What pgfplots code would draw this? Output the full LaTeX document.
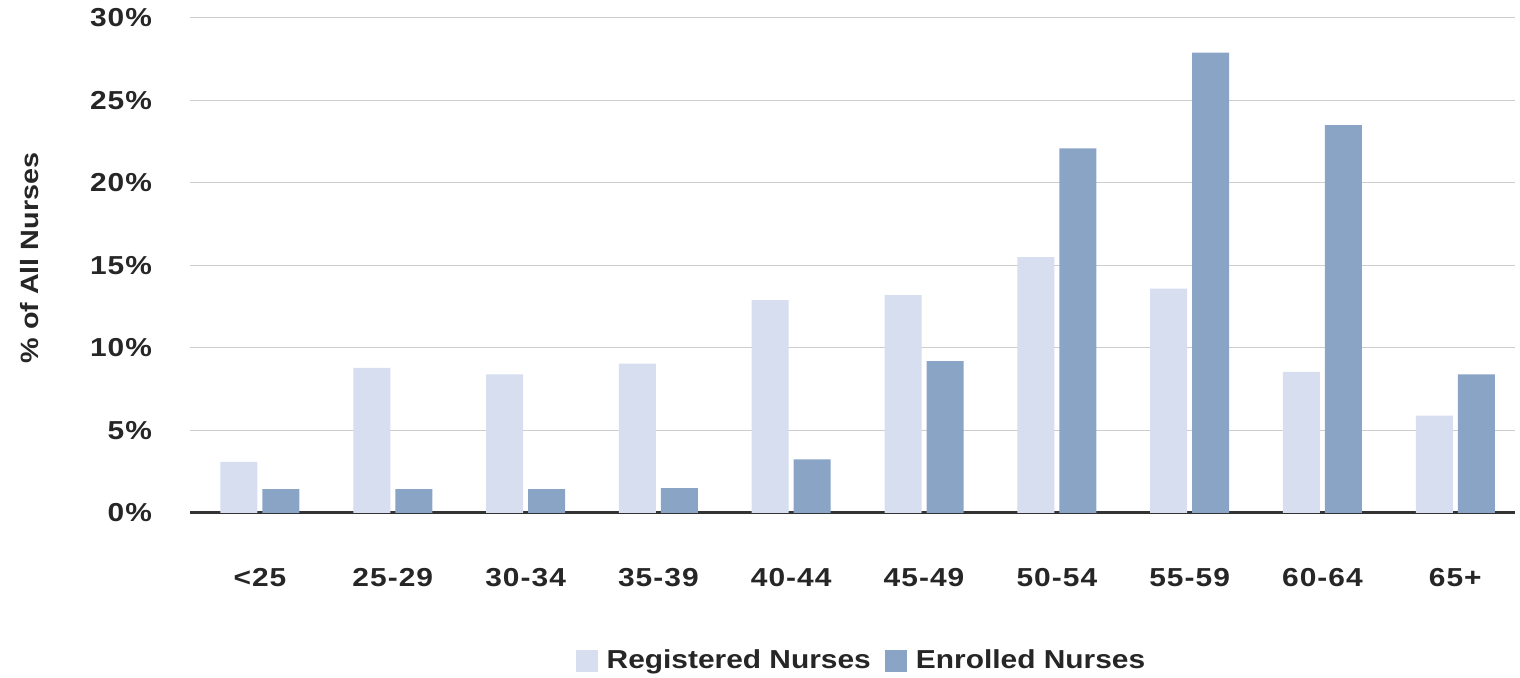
\documentclass[border=0pt]{standalone}
\usepackage{pgfplots}
\pgfplotsset{compat=1.18}
\usepackage{fontspec}
\setmainfont{Liberation Sans}[FakeStretch=1.15]
\newfontfamily\tickfont{Liberation Sans}[FakeStretch=1.15, LetterSpace=4]
\definecolor{regc}{RGB}{214,222,240}
\definecolor{enrc}{RGB}{138,164,198}
\definecolor{gridc}{RGB}{205,205,205}
\begin{document}
\begin{tikzpicture}
\begin{axis}[
  scale only axis,
  width=662.5pt, height=247.5pt,
  at={(0,0)}, anchor=south west,
  ybar=2.5pt, bar width=18.5pt,
  xmin=-0.527, xmax=9.45,
  ymin=0, ymax=30,
  xtick={0,1,2,3,4,5,6,7,8,9},
  xticklabels={<25,25-29,30-34,35-39,40-44,45-49,50-54,55-59,60-64,65+},
  ytick={0,5,10,15,20,25,30},
  yticklabels={0\%,5\%,10\%,15\%,20\%,25\%,30\%},
  axis y line*=left,
  axis x line*=bottom,
  y axis line style={draw=none},
  x axis line style={draw=black!80, line width=1.5pt, -},
  major tick length=0pt,
  tick style={draw=none},
  ymajorgrids,
  grid style={gridc, line width=0.5pt},
  ticklabel style={font=\tickfont\fontsize{13}{15}\selectfont\bfseries, text=black!85},
  yticklabel style={xshift=-15.5pt},
  xticklabel style={yshift=-24pt},
  ylabel={\% of All Nurses},
  ylabel style={at={(axis description cs:-0.121,0.515)}, anchor=center, rotate=0, font=\fontsize{12.5}{15}\selectfont\bfseries, text=black!85},
  legend style={at={(axis description cs:0.5075,-0.299)}, anchor=center, draw=none, fill=none,
    legend columns=-1, font=\fontsize{13}{15}\selectfont\bfseries, text=black!85,
    /tikz/every even column/.append style={column sep=5pt},
    /tikz/every odd column/.append style={column sep=2.5pt}},
  legend image code/.code={\fill[#1] (0pt,-5.25pt) rectangle (11pt,5.25pt);},
  clip=false,
]
\addplot[fill=regc, draw=none] coordinates {(0,3.1) (1,8.8) (2,8.4) (3,9.05) (4,12.9) (5,13.2) (6,15.5) (7,13.6) (8,8.55) (9,5.9)};
\addplot[fill=enrc, draw=none] coordinates {(0,1.45) (1,1.45) (2,1.45) (3,1.5) (4,3.25) (5,9.2) (6,22.1) (7,27.9) (8,23.5) (9,8.4)};
\legend{Registered Nurses, Enrolled Nurses}
\end{axis}
\pgfresetboundingbox
\path (-95pt,-82.5pt) rectangle (665pt,256.5pt);
\end{tikzpicture}
\end{document}
